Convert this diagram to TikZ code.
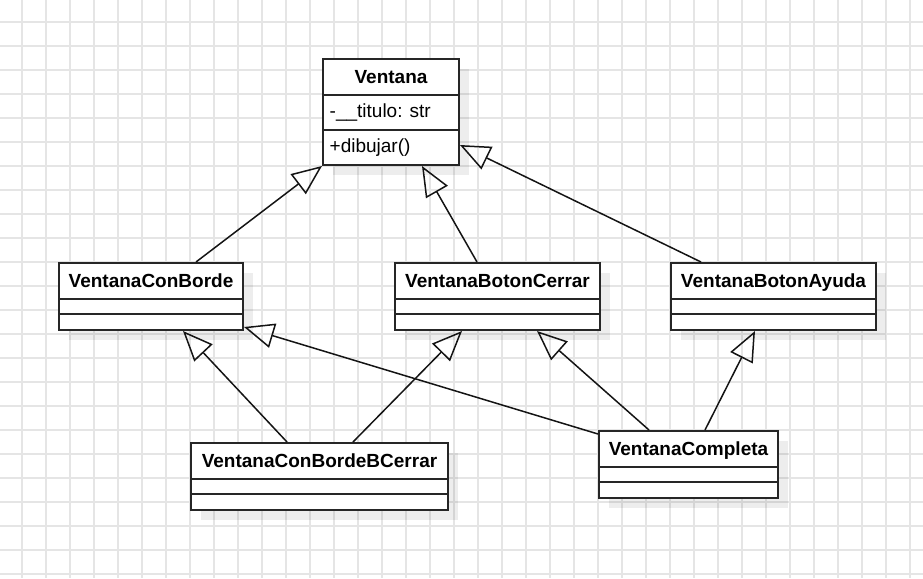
\documentclass[tikz,border=0pt]{standalone}
\usepackage{fontspec}
\setmainfont{Liberation Sans}
\definecolor{GridGray}{RGB}{229,229,229}
\definecolor{ClassLine}{RGB}{38,38,38}
\definecolor{LinkBlack}{RGB}{20,20,20}
\usetikzlibrary{arrows.meta, shadows}

\tikzset{
  classbox/.style={draw=ClassLine, line width=2pt, fill=white, anchor=north west, inner sep=0pt, minimum height=67pt,
    drop shadow={shadow xshift=10pt, shadow yshift=-10pt, fill=black, opacity=0.07}},
  classname/.style={anchor=base, font=\fontsize{19}{23}\selectfont\bfseries},
  member/.style={anchor=base west, inner sep=0pt, font=\fontsize{19}{23}\selectfont},
  sepline/.style={draw=ClassLine, line width=1.5pt},
  inherit/.style={draw=LinkBlack, line width=1.5pt, -{Triangle[open, length=30pt, width=25pt]}},
  gridline/.style={draw=GridGray, line width=1.5pt}
}

\begin{document}
\begin{tikzpicture}[x=1pt, y=-1pt]
    \useasboundingbox (0,0) rectangle (923,578);

    % Background grid
    \foreach \gx in {22,46,...,910} \draw[gridline] (\gx,0) -- (\gx,578);
    \foreach \gy in {22,46,...,574} \draw[gridline] (0,\gy) -- (923,\gy);

    % Base class
    \node[classbox, minimum width=136pt, minimum height=106pt] (ventana) at (322,58) {};
    \draw[sepline] ([yshift=-37pt]ventana.north west) -- ([yshift=-37pt]ventana.north east);
    \draw[sepline] ([yshift=-72pt]ventana.north west) -- ([yshift=-72pt]ventana.north east);
    \node[classname] (ventanaName) at ([yshift=-25.5pt]ventana.north) {Ventana};
    \node[member] (ventanaAttr) at ([xshift=7.5pt, yshift=-59pt]ventana.north west) {-\_\_titulo: str};
    \node[member] (ventanaOp) at ([xshift=7.5pt, yshift=-94pt]ventana.north west) {+dibujar()};

    % Decorators
    \node[classbox, minimum width=184pt] (conborde) at (58,262) {};
    \draw[sepline] ([yshift=-37pt]conborde.north west) -- ([yshift=-37pt]conborde.north east);
    \draw[sepline] ([yshift=-52pt]conborde.north west) -- ([yshift=-52pt]conborde.north east);
    \node[classname] (conbordeName) at ([yshift=-25.5pt]conborde.north) {VentanaConBorde};

    \node[classbox, minimum width=205pt] (botoncerrar) at (394,262) {};
    \draw[sepline] ([yshift=-37pt]botoncerrar.north west) -- ([yshift=-37pt]botoncerrar.north east);
    \draw[sepline] ([yshift=-52pt]botoncerrar.north west) -- ([yshift=-52pt]botoncerrar.north east);
    \node[classname] (botoncerrarName) at ([yshift=-25.5pt]botoncerrar.north) {VentanaBotonCerrar};

    \node[classbox, minimum width=205pt] (botonayuda) at (670,262) {};
    \draw[sepline] ([yshift=-37pt]botonayuda.north west) -- ([yshift=-37pt]botonayuda.north east);
    \draw[sepline] ([yshift=-52pt]botonayuda.north west) -- ([yshift=-52pt]botonayuda.north east);
    \node[classname] (botonayudaName) at ([yshift=-25.5pt]botonayuda.north) {VentanaBotonAyuda};

    % Combinations
    \node[classbox, minimum width=257pt] (bcerrar) at (190,442) {};
    \draw[sepline] ([yshift=-37pt]bcerrar.north west) -- ([yshift=-37pt]bcerrar.north east);
    \draw[sepline] ([yshift=-52pt]bcerrar.north west) -- ([yshift=-52pt]bcerrar.north east);
    \node[classname] (bcerrarName) at ([yshift=-25.5pt]bcerrar.north) {VentanaConBordeBCerrar};

    \node[classbox, minimum width=179pt] (completa) at (598,430) {};
    \draw[sepline] ([yshift=-37pt]completa.north west) -- ([yshift=-37pt]completa.north east);
    \draw[sepline] ([yshift=-52pt]completa.north west) -- ([yshift=-52pt]completa.north east);
    \node[classname] (completaName) at ([yshift=-25.5pt]completa.north) {VentanaCompleta};

    % Inheritance
    \draw[inherit] ([xshift=45pt]conborde.north) -- (ventana.south west);
    \draw[inherit] ([xshift=-20.5pt]botoncerrar.north) -- ([xshift=31pt]ventana.south);
    \draw[inherit] ([xshift=-72.5pt]botonayuda.north) -- ([yshift=21pt]ventana.south east);
    \draw[inherit] ([xshift=-32.5pt]bcerrar.north) -- ([xshift=32pt]conborde.south);
    \draw[inherit] ([xshift=33.5pt]bcerrar.north) -- ([xshift=-35.5pt]botoncerrar.south);
    \draw[inherit] ([yshift=-4pt]completa.north west) -- ([yshift=4pt]conborde.south east);
    \draw[inherit] ([xshift=-39.5pt]completa.north) -- ([xshift=39.5pt]botoncerrar.south);
    \draw[inherit] ([xshift=16.5pt]completa.north) -- ([xshift=-18.5pt]botonayuda.south);
\end{tikzpicture}
\end{document}
